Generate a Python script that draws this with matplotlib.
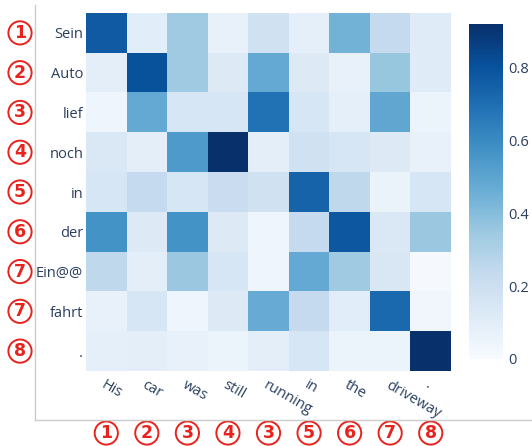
import matplotlib
matplotlib.use("Agg")
import matplotlib.pyplot as plt
from matplotlib.lines import Line2D

# source (rows) and target (columns) tokens
SRC = ["Sein", "Auto", "lief", "noch", "in", "der", "Ein@@", "fahrt", "."]
TGT = ["His", "car", "was", "still", "running", "in", "the", "driveway", "."]
SRC_IDX = [1, 2, 3, 4, 5, 6, 7, 7, 8]
TGT_IDX = [1, 2, 3, 4, 3, 5, 6, 7, 8]

# attention weights
ATTN = [
    [0.77, 0.10, 0.34, 0.07, 0.18, 0.08, 0.44, 0.23, 0.11],
    [0.09, 0.80, 0.34, 0.12, 0.48, 0.12, 0.07, 0.36, 0.11],
    [0.04, 0.48, 0.15, 0.15, 0.69, 0.15, 0.08, 0.49, 0.05],
    [0.13, 0.09, 0.54, 0.92, 0.09, 0.18, 0.15, 0.12, 0.07],
    [0.15, 0.23, 0.15, 0.21, 0.18, 0.74, 0.25, 0.06, 0.15],
    [0.57, 0.12, 0.57, 0.12, 0.04, 0.23, 0.78, 0.13, 0.35],
    [0.25, 0.09, 0.35, 0.15, 0.04, 0.48, 0.34, 0.14, 0.01],
    [0.07, 0.15, 0.04, 0.12, 0.47, 0.23, 0.10, 0.72, 0.03],
    [0.08, 0.09, 0.07, 0.05, 0.09, 0.15, 0.05, 0.05, 0.92],
]
CB_TICKS = [0, 0.2, 0.4, 0.6, 0.8]

W, H = 532, 446
TXT = "#2a3f5f"
RED = "#e8231e"
FONT = "Open Sans"

fig = plt.figure(figsize=(W / 100, H / 100), dpi=100)
ax = fig.add_axes([86 / W, 1 - 371 / H, 365 / W, 358 / H])
vmax = max(max(r) for r in ATTN)
im = ax.imshow(ATTN, cmap="Blues", vmin=0, vmax=vmax, aspect="auto")

ax.set_xticks(range(len(TGT)))
ax.set_xticklabels(TGT, rotation=-30, ha="left", va="top",
                   rotation_mode="anchor", fontsize=10.5, family=FONT, color=TXT)
ax.set_yticks(range(len(SRC)))
ax.set_yticklabels(SRC, fontsize=10.5, family=FONT, color=TXT)
ax.tick_params(axis="x", length=0, pad=5)
ax.tick_params(axis="y", length=0, pad=2)
for s in ax.spines.values():
    s.set_visible(False)

cax = fig.add_axes([469 / W, 1 - 359 / H, 34 / W, 335 / H])
cb = fig.colorbar(im, cax=cax, ticks=CB_TICKS)
cb.outline.set_visible(False)
cb.set_ticklabels([f"{t:g}" for t in CB_TICKS])
cax.tick_params(length=0, pad=4, labelsize=10.5, labelcolor=TXT)
for lab in cax.get_yticklabels():
    lab.set_family(FONT)

# circled word-alignment numbers
circ = dict(boxstyle="circle,pad=0.15", fc="white", ec=RED, lw=1.4)
for i, n in enumerate(SRC_IDX):
    ax.annotate(str(n), xy=(20 / W, i), xycoords=("figure fraction", "data"),
                ha="center", va="center", fontsize=12.5, fontweight="bold",
                color=RED, bbox=circ, annotation_clip=False)
for j, n in enumerate(TGT_IDX):
    ax.annotate(str(n), xy=(j, 1 - 433 / H), xycoords=("data", "figure fraction"),
                ha="center", va="center", fontsize=12.5, fontweight="bold",
                color=RED, bbox=circ, annotation_clip=False)

# frame lines
fig.add_artist(Line2D([35 / W, 35 / W], [1 - 5 / H, 1 - 420 / H],
                      transform=fig.transFigure, color="#cccccc", lw=1))
fig.add_artist(Line2D([35 / W, 1], [1 - 420 / H, 1 - 420 / H],
                      transform=fig.transFigure, color="#cccccc", lw=1))

fig.savefig("out.png", dpi=100)
